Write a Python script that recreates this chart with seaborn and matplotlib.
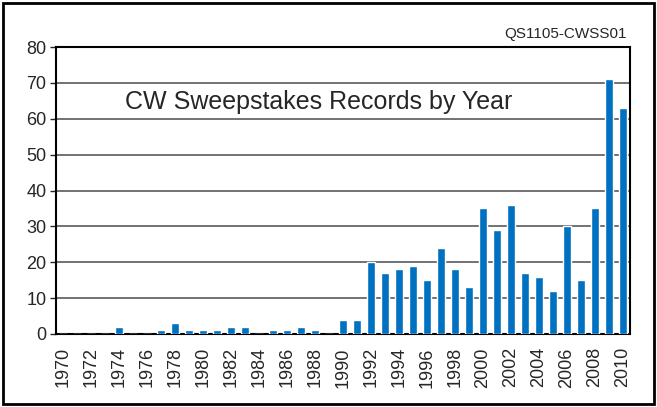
import matplotlib
matplotlib.use('agg')
import matplotlib.pyplot as plt
import seaborn as sns
import pandas as pd

years = list(range(1970, 2011))
records = [0, 0, 0, 0, 2, 0, 0, 1, 3, 1,
           1, 1, 2, 2, 0, 1, 1, 2, 1, 0,
           4, 4, 20, 17, 18, 19, 15, 24, 18, 13,
           35, 29, 36, 17, 16, 12, 30, 15, 35, 71,
           63]
tick_years = [str(y) for y in range(1970, 2011, 2)]

df = pd.DataFrame({"year": [str(y) for y in years], "records": records})

sns.set_style("white")
plt.rcParams['font.family'] = ['Liberation Sans', 'DejaVu Sans']

fig = plt.figure(figsize=(6.57, 4.07), dpi=100)
ax = fig.add_axes([56 / 657, 1 - 334 / 407, (630 - 56) / 657, (334 - 47) / 407])

sns.barplot(data=df, x="year", y="records", color="#0070C0", saturation=1,
            width=0.6, errorbar=None, ax=ax, zorder=3)

ax.set_ylim(0, 80)
ax.set_xlim(-0.5, len(years) - 0.5)
ax.set_yticks(range(0, 81, 10))
ax.yaxis.grid(True, color="#5a5a5a", linewidth=1.2, zorder=0)
ax.set_axisbelow(True)
ax.set_xticks([years.index(int(t)) for t in tick_years])
ax.set_xticklabels(tick_years, rotation=90, fontsize=13)
ax.tick_params(axis='y', labelsize=13, left=True, length=4, width=1, direction='out', pad=3)
ax.tick_params(axis='x', bottom=False, pad=6)
ax.set_xlabel("")
ax.set_ylabel("")
for s in ax.spines.values():
    s.set_color("black")
    s.set_linewidth(1.5)

ax.text(0.12, 0.81, "CW Sweepstakes Records by Year", transform=ax.transAxes,
        fontsize=18, va="center", ha="left")
fig.text(627 / 657, 1 - 34 / 407, "QS1105-CWSS01", fontsize=11, ha="right", va="center")

fig.patches.append(plt.Rectangle((3 / 657, 3 / 407), 651 / 657, 401 / 407, fill=False,
                                 edgecolor="black", linewidth=2, transform=fig.transFigure))

fig.savefig("out.png", dpi=100)
